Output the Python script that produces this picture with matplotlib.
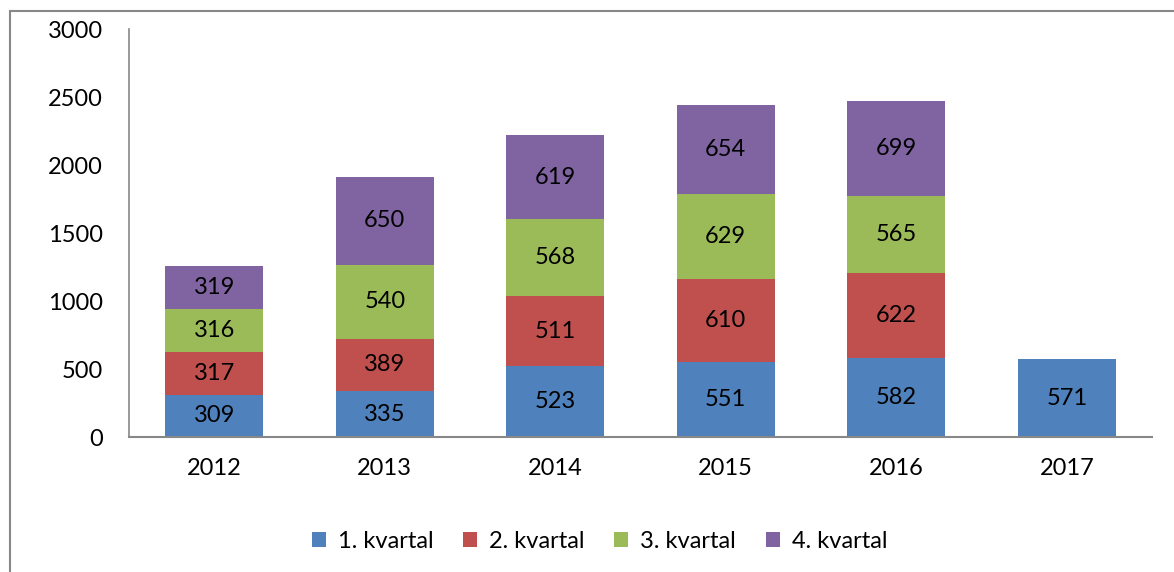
import numpy as np
import matplotlib.pyplot as plt
from matplotlib.patches import Rectangle

plt.rcParams['font.family'] = ['Lato', 'DejaVu Sans']

# Data
years = ['2012', '2013', '2014', '2015', '2016', '2017']
q1 = [309, 335, 523, 551, 582, 571]
q2 = [317, 389, 511, 610, 622, 0]
q3 = [316, 540, 568, 629, 565, 0]
q4 = [319, 650, 619, 654, 699, 0]
series_names = ['1. kvartal', '2. kvartal', '3. kvartal', '4. kvartal']
colors = ['#4F81BD', '#C0504D', '#9BBB59', '#8064A2']

fig = plt.figure(figsize=(11.74, 5.72), dpi=100)
ax = fig.add_axes([0.1099, 0.236, 0.8714, 0.7133])

# frame around the chart
fig.patches.append(Rectangle((10 / 1174, -0.1), 1.2, 1 - 11 / 572 + 0.1,
                             transform=fig.transFigure, fill=False,
                             edgecolor='#888888', linewidth=1.5))

x = np.arange(len(years))
bottom = np.zeros(len(years))
for vals, name, col in zip([q1, q2, q3, q4], series_names, colors):
    vals = np.array(vals, dtype=float)
    ax.bar(x, vals, 0.575, bottom=bottom, color=col, label=name)
    for xi, v, b in zip(x, vals, bottom):
        if v > 0:
            ax.text(xi, b + v / 2, str(int(v)), ha='center', va='center',
                    fontsize=17, color='black')
    bottom += vals

ax.set_xlim(-0.5, 5.5)
ax.set_ylim(0, 3000)
ax.set_yticks(range(0, 3001, 500))
ax.set_xticks(x)
ax.set_xticklabels(years)
ax.tick_params(axis='both', length=0, labelsize=17)
ax.tick_params(axis='x', pad=15)
ax.tick_params(axis='y', pad=19)
ax.spines['top'].set_visible(False)
ax.spines['right'].set_visible(False)
ax.spines['left'].set_color('#888888')
ax.spines['bottom'].set_color('#888888')
ax.spines['left'].set_linewidth(1.2)
ax.spines['bottom'].set_linewidth(1.5)

ax.legend(loc='center', bbox_to_anchor=(0.46, -0.255), ncol=4, frameon=False,
          fontsize=17, handlelength=0.6, handleheight=0.6, columnspacing=1.25,
          handletextpad=0.5)

plt.savefig('out.png', dpi=100)
